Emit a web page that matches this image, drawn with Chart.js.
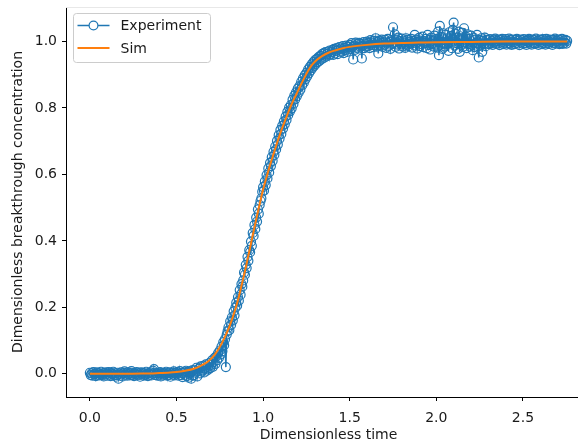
<!DOCTYPE html>
<html>
<head>
<meta charset="utf-8">
<script src="https://cdn.jsdelivr.net/npm/chart.js@4.4.1/dist/chart.umd.min.js"></script>
<style>
  html, body { margin: 0; padding: 0; background: #fff; overflow: hidden; }
  #wrap { width: 600px; height: 442px; }
</style>
</head>
<body>
<div id="wrap"><canvas id="breakthrough" width="600" height="442"></canvas></div>
<script>
// Measured breakthrough curve, sampled every 0.005 in dimensionless time
const expTime = [
  0.000, 0.005, 0.010, 0.015, 0.020, 0.025, 0.030, 0.035, 0.040, 0.045,
  0.050, 0.055, 0.060, 0.065, 0.070, 0.075, 0.080, 0.085, 0.090, 0.095,
  0.100, 0.105, 0.110, 0.115, 0.120, 0.125, 0.130, 0.135, 0.140, 0.145,
  0.150, 0.155, 0.160, 0.165, 0.170, 0.175, 0.180, 0.185, 0.190, 0.195,
  0.200, 0.205, 0.210, 0.215, 0.220, 0.225, 0.230, 0.235, 0.240, 0.245,
  0.250, 0.255, 0.260, 0.265, 0.270, 0.275, 0.280, 0.285, 0.290, 0.295,
  0.300, 0.305, 0.310, 0.315, 0.320, 0.325, 0.330, 0.335, 0.340, 0.345,
  0.350, 0.355, 0.360, 0.365, 0.370, 0.375, 0.380, 0.385, 0.390, 0.395,
  0.400, 0.405, 0.410, 0.415, 0.420, 0.425, 0.430, 0.435, 0.440, 0.445,
  0.450, 0.455, 0.460, 0.465, 0.470, 0.475, 0.480, 0.485, 0.490, 0.495,
  0.500, 0.505, 0.510, 0.515, 0.520, 0.525, 0.530, 0.535, 0.540, 0.545,
  0.550, 0.555, 0.560, 0.565, 0.570, 0.575, 0.580, 0.585, 0.590, 0.595,
  0.600, 0.605, 0.610, 0.615, 0.620, 0.625, 0.630, 0.635, 0.640, 0.645,
  0.650, 0.655, 0.660, 0.665, 0.670, 0.675, 0.680, 0.685, 0.690, 0.695,
  0.700, 0.705, 0.710, 0.715, 0.720, 0.725, 0.730, 0.735, 0.740, 0.745,
  0.750, 0.755, 0.760, 0.765, 0.770, 0.775, 0.780, 0.785, 0.790, 0.795,
  0.800, 0.805, 0.810, 0.815, 0.820, 0.825, 0.830, 0.835, 0.840, 0.845,
  0.850, 0.855, 0.860, 0.865, 0.870, 0.875, 0.880, 0.885, 0.890, 0.895,
  0.900, 0.905, 0.910, 0.915, 0.920, 0.925, 0.930, 0.935, 0.940, 0.945,
  0.950, 0.955, 0.960, 0.965, 0.970, 0.975, 0.980, 0.985, 0.990, 0.995,
  1.000, 1.005, 1.010, 1.015, 1.020, 1.025, 1.030, 1.035, 1.040, 1.045,
  1.050, 1.055, 1.060, 1.065, 1.070, 1.075, 1.080, 1.085, 1.090, 1.095,
  1.100, 1.105, 1.110, 1.115, 1.120, 1.125, 1.130, 1.135, 1.140, 1.145,
  1.150, 1.155, 1.160, 1.165, 1.170, 1.175, 1.180, 1.185, 1.190, 1.195,
  1.200, 1.205, 1.210, 1.215, 1.220, 1.225, 1.230, 1.235, 1.240, 1.245,
  1.250, 1.255, 1.260, 1.265, 1.270, 1.275, 1.280, 1.285, 1.290, 1.295,
  1.300, 1.305, 1.310, 1.315, 1.320, 1.325, 1.330, 1.335, 1.340, 1.345,
  1.350, 1.355, 1.360, 1.365, 1.370, 1.375, 1.380, 1.385, 1.390, 1.395,
  1.400, 1.405, 1.410, 1.415, 1.420, 1.425, 1.430, 1.435, 1.440, 1.445,
  1.450, 1.455, 1.460, 1.465, 1.470, 1.475, 1.480, 1.485, 1.490, 1.495,
  1.500, 1.505, 1.510, 1.515, 1.520, 1.525, 1.530, 1.535, 1.540, 1.545,
  1.550, 1.555, 1.560, 1.565, 1.570, 1.575, 1.580, 1.585, 1.590, 1.595,
  1.600, 1.605, 1.610, 1.615, 1.620, 1.625, 1.630, 1.635, 1.640, 1.645,
  1.650, 1.655, 1.660, 1.665, 1.670, 1.675, 1.680, 1.685, 1.690, 1.695,
  1.700, 1.705, 1.710, 1.715, 1.720, 1.725, 1.730, 1.735, 1.740, 1.745,
  1.750, 1.755, 1.760, 1.765, 1.770, 1.775, 1.780, 1.785, 1.790, 1.795,
  1.800, 1.805, 1.810, 1.815, 1.820, 1.825, 1.830, 1.835, 1.840, 1.845,
  1.850, 1.855, 1.860, 1.865, 1.870, 1.875, 1.880, 1.885, 1.890, 1.895,
  1.900, 1.905, 1.910, 1.915, 1.920, 1.925, 1.930, 1.935, 1.940, 1.945,
  1.950, 1.955, 1.960, 1.965, 1.970, 1.975, 1.980, 1.985, 1.990, 1.995,
  2.000, 2.005, 2.010, 2.015, 2.020, 2.025, 2.030, 2.035, 2.040, 2.045,
  2.050, 2.055, 2.060, 2.065, 2.070, 2.075, 2.080, 2.085, 2.090, 2.095,
  2.100, 2.105, 2.110, 2.115, 2.120, 2.125, 2.130, 2.135, 2.140, 2.145,
  2.150, 2.155, 2.160, 2.165, 2.170, 2.175, 2.180, 2.185, 2.190, 2.195,
  2.200, 2.205, 2.210, 2.215, 2.220, 2.225, 2.230, 2.235, 2.240, 2.245,
  2.250, 2.255, 2.260, 2.265, 2.270, 2.275, 2.280, 2.285, 2.290, 2.295,
  2.300, 2.305, 2.310, 2.315, 2.320, 2.325, 2.330, 2.335, 2.340, 2.345,
  2.350, 2.355, 2.360, 2.365, 2.370, 2.375, 2.380, 2.385, 2.390, 2.395,
  2.400, 2.405, 2.410, 2.415, 2.420, 2.425, 2.430, 2.435, 2.440, 2.445,
  2.450, 2.455, 2.460, 2.465, 2.470, 2.475, 2.480, 2.485, 2.490, 2.495,
  2.500, 2.505, 2.510, 2.515, 2.520, 2.525, 2.530, 2.535, 2.540, 2.545,
  2.550, 2.555, 2.560, 2.565, 2.570, 2.575, 2.580, 2.585, 2.590, 2.595,
  2.600, 2.605, 2.610, 2.615, 2.620, 2.625, 2.630, 2.635, 2.640, 2.645,
  2.650, 2.655, 2.660, 2.665, 2.670, 2.675, 2.680, 2.685, 2.690, 2.695,
  2.700, 2.705, 2.710, 2.715, 2.720, 2.725, 2.730, 2.735, 2.740, 2.745,
  2.750, 2.755
];
const expConc = [
  0.003, -0.004, 0.001, -0.006, 0.005, -0.002, 0.000, -0.007, 0.004, -0.003,
  0.002, -0.005, -0.001, 0.006, -0.004, 0.001, -0.008, 0.003, -0.002, 0.004,
  -0.006, 0.000, 0.005, -0.003, -0.007, 0.002, -0.001, 0.006, -0.005, 0.001,
  -0.009, -0.004, 0.003, -0.015, 0.000, -0.006, 0.004, -0.002, -0.008, 0.002,
  0.007, -0.003, 0.001, -0.006, 0.004, -0.001, -0.005, 0.003, 0.008, -0.004,
  0.000, -0.007, 0.002, -0.002, 0.005, -0.005, 0.001, -0.003, -0.009, 0.004,
  -0.002, 0.003, -0.006, 0.001, -0.004, 0.006, -0.001, -0.007, 0.002, -0.003,
  0.004, -0.005, 0.000, 0.009, 0.014, 0.003, -0.004, 0.001, -0.006, 0.002,
  -0.003, 0.005, -0.008, 0.000, 0.003, -0.005, 0.002, -0.002, 0.006, -0.006,
  0.001, -0.004, 0.004, -0.009, 0.000, 0.003, -0.003, 0.007, -0.005, 0.002,
  -0.002, 0.005, -0.006, 0.001, 0.008, -0.004, 0.003, -0.010, 0.002, 0.006,
  -0.003, 0.009, -0.007, 0.004, -0.012, 0.007, 0.002, -0.015, 0.010, -0.006,
  -0.004, 0.012, 0.003, 0.018, -0.008, 0.008, 0.015, 0.001, 0.022, 0.006,
  0.010, 0.024, 0.004, 0.016, 0.028, 0.009, 0.020, 0.013, 0.032, 0.017,
  0.027, 0.040, 0.021, 0.035, 0.048, 0.030, 0.052, 0.041, 0.062, 0.048,
  0.070, 0.058, 0.082, 0.068, 0.095, 0.086, 0.104, 0.020, 0.118, 0.128,
  0.140, 0.131, 0.158, 0.147, 0.170, 0.160, 0.188, 0.176, 0.199, 0.214,
  0.205, 0.231, 0.220, 0.252, 0.238, 0.270, 0.262, 0.281, 0.305, 0.298,
  0.328, 0.318, 0.352, 0.340, 0.372, 0.366, 0.398, 0.385, 0.424, 0.415,
  0.448, 0.436, 0.470, 0.458, 0.495, 0.482, 0.508, 0.520, 0.528, 0.548,
  0.562, 0.551, 0.579, 0.568, 0.598, 0.588, 0.618, 0.606, 0.635, 0.625,
  0.652, 0.641, 0.668, 0.659, 0.684, 0.675, 0.701, 0.690, 0.718, 0.708,
  0.734, 0.722, 0.746, 0.738, 0.760, 0.751, 0.774, 0.764, 0.788, 0.779,
  0.801, 0.790, 0.809, 0.799, 0.825, 0.812, 0.837, 0.826, 0.847, 0.836,
  0.858, 0.846, 0.866, 0.855, 0.879, 0.868, 0.889, 0.876, 0.898, 0.887,
  0.906, 0.896, 0.916, 0.905, 0.924, 0.913, 0.931, 0.921, 0.938, 0.927,
  0.944, 0.933, 0.948, 0.938, 0.953, 0.942, 0.957, 0.946, 0.962, 0.949,
  0.965, 0.952, 0.968, 0.955, 0.963, 0.970, 0.958, 0.973, 0.961, 0.968,
  0.975, 0.960, 0.978, 0.964, 0.972, 0.980, 0.962, 0.976, 0.983, 0.967,
  0.979, 0.970, 0.986, 0.965, 0.981, 0.974, 0.988, 0.969, 0.984, 0.976,
  0.990, 0.978, 0.995, 0.983, 0.946, 0.988, 0.975, 0.997, 0.982, 0.992,
  0.979, 0.996, 0.985, 0.993, 0.949, 0.987, 0.998, 0.980, 0.994, 0.984,
  1.000, 0.986, 0.996, 0.980, 1.004, 0.989, 0.997, 0.983, 1.002, 0.990,
  1.010, 0.985, 0.999, 0.964, 1.003, 0.988, 0.996, 1.006, 0.984, 0.998,
  0.990, 1.005, 0.981, 0.997, 1.008, 0.987, 0.999, 0.978, 1.004, 0.992,
  1.043, 0.995, 1.022, 0.984, 1.006, 0.991, 1.012, 0.979, 1.001, 0.994,
  1.009, 0.985, 1.003, 0.997, 0.981, 1.010, 0.990, 1.005, 0.986, 1.000,
  0.993, 1.008, 0.982, 1.002, 0.996, 1.020, 0.988, 1.006, 0.979, 0.999,
  1.011, 0.986, 1.003, 0.992, 1.015, 0.983, 1.001, 0.995, 1.008, 0.980,
  1.020, 0.989, 1.006, 0.976, 1.012, 0.994, 1.003, 0.985, 1.018, 0.991,
  1.008, 0.982, 1.030, 0.959, 1.047, 0.990, 1.014, 0.978, 1.025, 0.996,
  0.985, 1.021, 0.993, 1.010, 0.972, 1.028, 0.998, 1.017, 0.980, 1.035,
  1.057, 0.988, 1.024, 0.995, 1.012, 0.978, 1.030, 0.969, 1.010, 0.990,
  1.026, 0.984, 1.040, 0.996, 1.015, 0.980, 1.022, 0.992, 1.008, 0.985,
  1.018, 0.990, 0.974, 1.012, 0.983, 1.006, 0.995, 1.020, 0.986, 0.952,
  1.004, 0.988, 1.010, 0.969, 1.003, 0.992, 1.012, 0.986, 1.005, 0.994,
  1.004, 0.992, 1.007, 0.995, 1.002, 0.990, 1.006, 0.997, 1.009, 0.993,
  1.001, 0.994, 1.006, 0.989, 1.004, 0.997, 1.008, 0.992, 1.003, 0.996,
  1.007, 0.991, 1.002, 0.995, 1.009, 0.993, 1.004, 0.990, 1.006, 0.998,
  0.992, 1.005, 0.996, 1.008, 0.994, 1.003, 0.989, 1.006, 0.997, 1.004,
  0.993, 1.007, 0.995, 1.002, 0.990, 1.005, 0.998, 1.008, 0.994, 1.003,
  0.991, 1.006, 0.996, 1.004, 0.993, 1.009, 0.995, 1.002, 0.990, 1.006,
  0.997, 1.004, 0.992, 1.007, 0.995, 1.003, 0.991, 1.008, 0.996, 1.002,
  0.993, 1.006, 0.998, 1.004, 0.990, 1.005, 0.996, 1.009, 0.994, 1.002,
  0.997, 1.006, 0.992, 1.004, 0.995, 1.008, 0.993, 1.003, 0.996, 1.005,
  0.994, 1.002
];

// Simulated curve
const simTime = [
  0.00, 0.10, 0.20, 0.30, 0.35, 0.40, 0.45, 0.50, 0.55, 0.60,
  0.64, 0.68, 0.72, 0.76, 0.80, 0.82, 0.84, 0.86, 0.88, 0.90,
  0.92, 0.94, 0.96, 0.98, 1.00, 1.02, 1.04, 1.06, 1.08, 1.10,
  1.12, 1.14, 1.16, 1.18, 1.20, 1.22, 1.24, 1.26, 1.28, 1.30,
  1.34, 1.38, 1.42, 1.46, 1.50, 1.60, 1.70, 1.80, 1.90, 2.00,
  2.20, 2.40, 2.60, 2.755
];
const simConc = [
  0.000, 0.000, 0.000, 0.0005, 0.001, 0.002, 0.003, 0.005, 0.009, 0.015,
  0.024, 0.036, 0.057, 0.090, 0.135, 0.163, 0.195, 0.232, 0.275, 0.320,
  0.368, 0.416, 0.464, 0.511, 0.555, 0.592, 0.628, 0.661, 0.694, 0.725,
  0.753, 0.780, 0.806, 0.829, 0.850, 0.872, 0.893, 0.912, 0.928, 0.940,
  0.956, 0.967, 0.974, 0.980, 0.984, 0.990, 0.994, 0.996, 0.997, 0.998,
  0.999, 1.000, 1.000, 1.000
];

const xTicks = [0.0, 0.5, 1.0, 1.5, 2.0, 2.5];
const yTicks = [0.0, 0.2, 0.4, 0.6, 0.8, 1.0];
const seriesNames = ['Experiment', 'Sim'];

const BLUE = '#1f77b4';
const ORANGE = '#ff7f0e';
const FONT = 'DejaVu Sans';

const toPoints = (xs, ys) => xs.map((x, i) => ({ x: x, y: ys[i] }));

// matplotlib-style legend box in the upper left corner
const legendBox = {
    id: 'legendBox',
    afterDraw(chart) {
        const { ctx, chartArea } = chart;
        const left = chartArea.left + 7.5;
        const top = chartArea.top + 6.5;
        const w = 137, h = 49;
        ctx.save();
        ctx.beginPath();
        ctx.roundRect(left, top, w, h, 3);
        ctx.fillStyle = 'rgba(255,255,255,0.8)';
        ctx.fill();
        ctx.strokeStyle = '#cccccc';
        ctx.lineWidth = 1;
        ctx.stroke();

        const rows = [
            { label: seriesNames[0], color: BLUE, marker: true, y: top + 12 },
            { label: seriesNames[1], color: ORANGE, marker: false, y: top + 34.5 }
        ];
        rows.forEach(r => {
            ctx.beginPath();
            ctx.moveTo(left + 4, r.y);
            ctx.lineTo(left + 36, r.y);
            ctx.strokeStyle = r.color;
            ctx.lineWidth = r.marker ? 1.5 : 2;
            ctx.stroke();
            if (r.marker) {
                ctx.beginPath();
                ctx.arc(left + 20, r.y, 4.4, 0, Math.PI * 2);
                ctx.fillStyle = '#fff';
                ctx.fill();
                ctx.lineWidth = 1.2;
                ctx.stroke();
            }
            ctx.fillStyle = '#1a1a1a';
            ctx.font = '14px "' + FONT + '"';
            ctx.textBaseline = 'middle';
            ctx.textAlign = 'left';
            ctx.fillText(r.label, left + 47, r.y + 1);
        });
        ctx.restore();
    }
};

// faint top frame line
const topLine = {
    id: 'topLine',
    beforeDatasetsDraw(chart) {
        const { ctx, chartArea } = chart;
        ctx.save();
        ctx.strokeStyle = '#e8e8e8';
        ctx.lineWidth = 1;
        ctx.beginPath();
        ctx.moveTo(chartArea.left, chartArea.top + 0.5);
        ctx.lineTo(chart.width, chartArea.top + 0.5);
        ctx.stroke();
        ctx.restore();
    }
};

new Chart(document.getElementById('breakthrough'), {
    type: 'line',
    data: {
        datasets: [
            {
                label: seriesNames[0],
                data: toPoints(expTime, expConc),
                borderColor: BLUE,
                borderWidth: 1.5,
                pointRadius: 4.5,
                pointBorderWidth: 1.2,
                pointBorderColor: BLUE,
                pointBackgroundColor: 'rgba(0,0,0,0)',
                tension: 0,
                order: 2
            },
            {
                label: seriesNames[1],
                data: toPoints(simTime, simConc),
                borderColor: ORANGE,
                borderWidth: 2,
                pointRadius: 0,
                cubicInterpolationMode: 'monotone',
                order: 1
            }
        ]
    },
    options: {
        responsive: false,
        animation: false,
        devicePixelRatio: 1,
        layout: { padding: { left: 0, top: 7, right: 9, bottom: 0 } },
        plugins: { legend: { display: false }, tooltip: { enabled: false } },
        scales: {
            x: {
                type: 'linear',
                min: -0.1378,
                max: 2.8928,
                afterFit: s => { s.height = 45; s.paddingLeft = 0; s.paddingRight = 0; },
                afterBuildTicks: s => { s.ticks = xTicks.map(v => ({ value: v })); },
                grid: { drawOnChartArea: false, drawTicks: true, tickLength: 4, tickColor: '#000' },
                border: { color: '#000', width: 1 },
                ticks: {
                    color: '#1a1a1a',
                    padding: 9,
                    maxRotation: 0,
                    font: { family: FONT, size: 14 },
                    callback: v => v.toFixed(1)
                },
                title: {
                    display: true,
                    text: 'Dimensionless time',
                    color: '#1a1a1a',
                    font: { family: FONT, size: 14, lineHeight: 1.0 },
                    padding: { top: 0, bottom: 0 }
                }
            },
            y: {
                type: 'linear',
                min: -0.070,
                max: 1.104,
                afterFit: s => { s.width = 66; s.paddingTop = 0; s.paddingBottom = 0; },
                afterBuildTicks: s => { s.ticks = yTicks.map(v => ({ value: v })); },
                grid: { drawOnChartArea: false, drawTicks: true, tickLength: 4, tickColor: '#000' },
                border: { color: '#000', width: 1 },
                ticks: {
                    color: '#1a1a1a',
                    padding: 5,
                    font: { family: FONT, size: 14 },
                    callback: v => v.toFixed(1)
                },
                title: {
                    display: true,
                    text: 'Dimensionless breakthrough concentration',
                    color: '#1a1a1a',
                    font: { family: FONT, size: 14, lineHeight: 1.2 },
                    padding: { top: 10, bottom: 0 }
                }
            }
        }
    },
    plugins: [topLine, legendBox]
});
</script>
</body>
</html>
